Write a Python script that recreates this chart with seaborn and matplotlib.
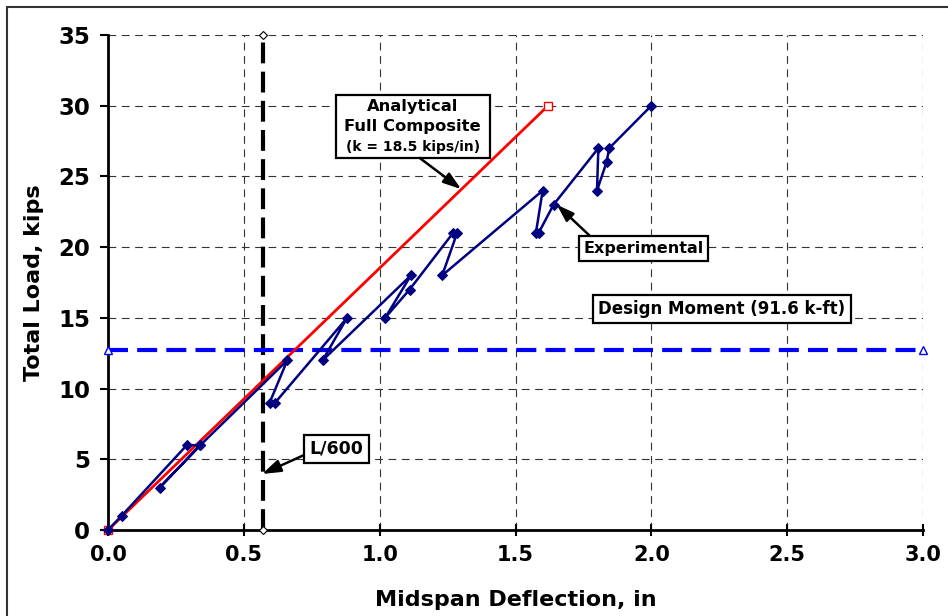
import matplotlib
matplotlib.use("Agg")
import matplotlib.pyplot as plt
import pandas as pd
import seaborn as sns
from matplotlib.patches import Rectangle

# Measured midspan deflection (in) and total load (kips), in loading order
exp_deflection = [0.0, 0.05, 0.29, 0.34, 0.19, 0.34, 0.66, 0.595, 0.615, 0.88, 0.79,
                  1.115, 1.02, 1.11, 1.27, 1.285, 1.23, 1.60, 1.575, 1.585, 1.64,
                  1.805, 1.80, 1.835, 1.845, 2.0]
exp_load = [0, 1, 6, 6, 3, 6, 12, 9, 9, 15, 12, 18, 15, 17, 21, 21, 18, 24,
            21, 21, 23, 27, 24, 26, 27, 30]

# Analytical full-composite response (k = 18.5 kips/in)
analytical_deflection = [0.0, 1.62]
analytical_load = [0, 30]

# Design-moment load level and L/600 deflection limit
design_deflection = [0.0, 3.0]
design_load = [12.7, 12.7]
l600_deflection = [0.57, 0.57]
l600_load = [0, 35]

x_ticks = [0.0, 0.5, 1.0, 1.5, 2.0, 2.5, 3.0]
y_ticks = [0, 5, 10, 15, 20, 25, 30, 35]

sns.set_theme(style="white")
plt.rcParams["font.family"] = ["DejaVu Sans"]
plt.rcParams["font.weight"] = "bold"
for key in ("text.color", "axes.labelcolor", "xtick.color", "ytick.color"):
    plt.rcParams[key] = "black"

fig = plt.figure(figsize=(9.48, 6.16), dpi=100)
ax = fig.add_axes([108 / 948, 1 - 530 / 616, 815 / 948, 495 / 616])

exp_df = pd.DataFrame({"deflection": exp_deflection, "load": exp_load})
ana_df = pd.DataFrame({"deflection": analytical_deflection, "load": analytical_load})
dm_df = pd.DataFrame({"deflection": design_deflection, "load": design_load})
l6_df = pd.DataFrame({"deflection": l600_deflection, "load": l600_load})

# L/600 limit
sns.lineplot(data=l6_df, x="deflection", y="load", sort=False, estimator=None, ax=ax,
             color="black", lw=3, marker="D", markersize=4, markerfacecolor="white",
             markeredgecolor="black", markeredgewidth=0.8, clip_on=False, zorder=3)
ax.lines[-1].set_dashes((5, 2))

# Design moment level
sns.lineplot(data=dm_df, x="deflection", y="load", sort=False, estimator=None, ax=ax,
             color="#0000FF", lw=3, marker="^", markersize=6, markerfacecolor="white",
             markeredgecolor="#0000FF", markeredgewidth=1, clip_on=False, zorder=3)
ax.lines[-1].set_dashes((4.8, 2.2))

# Analytical line
sns.lineplot(data=ana_df, x="deflection", y="load", sort=False, estimator=None, ax=ax,
             color="#FF0000", lw=2, marker="s", markersize=6, markerfacecolor="white",
             markeredgecolor="#FF0000", markeredgewidth=1, clip_on=False, zorder=4)

# Experimental load-deflection path
sns.lineplot(data=exp_df, x="deflection", y="load", sort=False, estimator=None, ax=ax,
             color="#000080", lw=1.8, marker="D", markersize=5,
             markerfacecolor="#000080", markeredgecolor="#000080", clip_on=False, zorder=5)

ax.set_xlim(0, 3.0)
ax.set_ylim(0, 35)
ax.set_xticks(x_ticks)
ax.set_xticklabels([f"{v:.1f}" for v in x_ticks])
ax.set_yticks(y_ticks)
ax.set_yticklabels([str(v) for v in y_ticks])

ax.grid(True, color="#333333", lw=0.8, linestyle=(0, (7, 5)))
ax.set_axisbelow(True)
for side in ("top", "right"):
    ax.spines[side].set_visible(False)
for side in ("left", "bottom"):
    ax.spines[side].set_color("black")
    ax.spines[side].set_linewidth(2)

ax.tick_params(axis="y", direction="out", length=6, width=1.5, color="black",
               labelsize=16.5, pad=7, left=True)
ax.tick_params(axis="x", direction="inout", length=9, width=1.5, color="black",
               labelsize=15, pad=6, bottom=True)
for lbl in ax.get_xticklabels() + ax.get_yticklabels():
    lbl.set_fontweight("bold")

ax.set_xlabel("Midspan Deflection, in", fontsize=16, fontweight="bold")
ax.set_ylabel("Total Load, kips", fontsize=16, fontweight="bold")
ax.xaxis.set_label_coords(0.5, -0.121)
ax.yaxis.set_label_coords(-0.079, 0.5)

box_kw = dict(boxstyle="square,pad=0.3", fc="white", ec="black", lw=1.6)
arrow_kw = dict(arrowstyle="-|>,head_length=0.9,head_width=0.3", color="black", lw=1.8,
                shrinkA=0, shrinkB=0)

# Analytical callout
ax.add_patch(Rectangle((0.839, 26.31), 0.567, 4.45, fc="white", ec="black", lw=1.6, zorder=6))
ax.text(1.122, 29.95, "Analytical", ha="center", va="center", fontsize=11.8,
        fontweight="bold", zorder=7)
ax.text(1.122, 28.5, "Full Composite", ha="center", va="center", fontsize=11.8,
        fontweight="bold", zorder=7)
ax.text(1.122, 27.1, "(k = 18.5 kips/in)", ha="center", va="center", fontsize=10,
        fontweight="bold", zorder=7)
ax.annotate("", xy=(1.30, 24.1), xytext=(1.147, 26.31), arrowprops=arrow_kw, zorder=6)

# Experimental callout
ax.annotate("Experimental", xy=(1.652, 23.0), xytext=(1.971, 19.9),
            ha="center", va="center", fontsize=11.5, fontweight="bold",
            bbox=box_kw, arrowprops=dict(arrow_kw, relpos=(0.1, 1.0)), zorder=7)

# Design moment label
ax.text(2.26, 15.6, "Design Moment (91.6 k-ft)", ha="center", va="center",
        fontsize=12, fontweight="bold", bbox=box_kw, zorder=7)

# L/600 callout
ax.annotate("L/600", xy=(0.567, 3.96), xytext=(0.841, 5.73),
            ha="center", va="center", fontsize=12.5, fontweight="bold",
            bbox=box_kw, arrowprops=dict(arrow_kw, relpos=(0.0, 0.3)), zorder=7)

# Chart frame
fig.patches.append(Rectangle((7 / 948, -0.05), 1.0, 1 - 7 / 616 + 0.05,
                             transform=fig.transFigure, fill=False,
                             ec="#333333", lw=1.5, zorder=0))

fig.savefig("out.png", dpi=100)
